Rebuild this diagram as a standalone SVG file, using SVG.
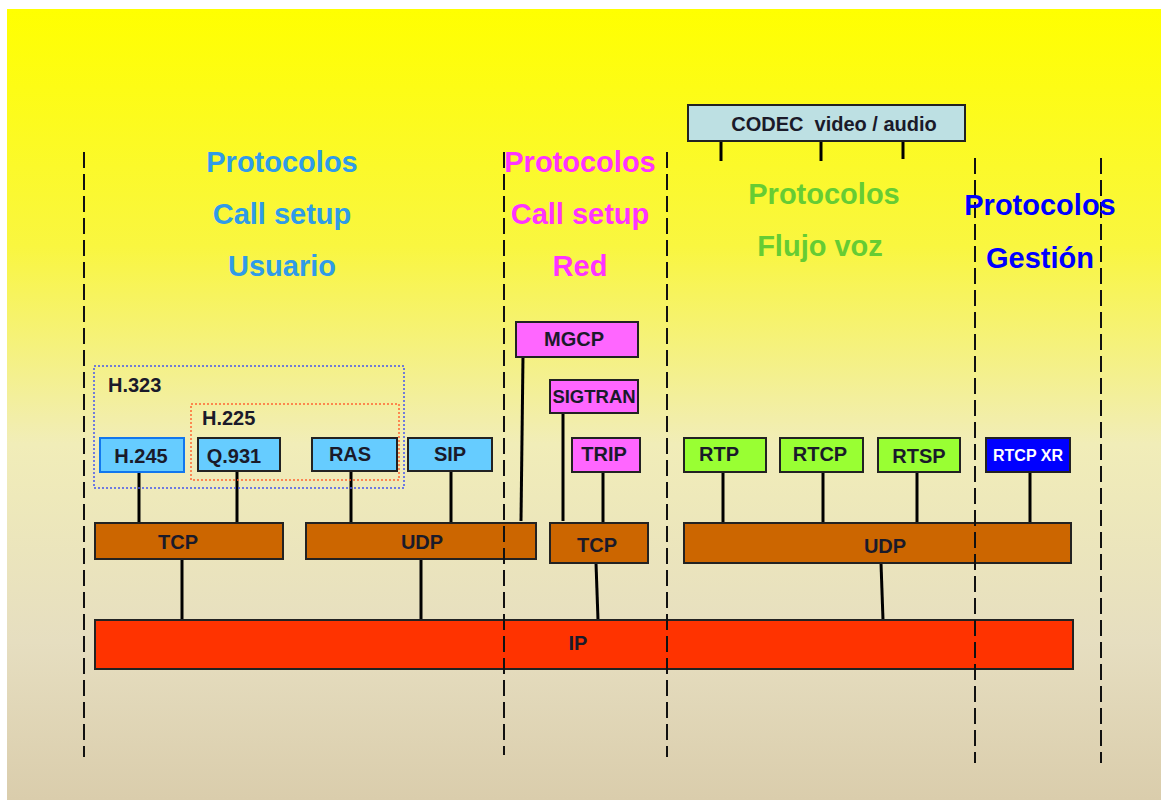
<svg xmlns="http://www.w3.org/2000/svg" width="1161" height="800" viewBox="0 0 1161 800">
<defs>
<linearGradient id="bg" x1="0" y1="0" x2="0" y2="1">
<stop offset="0" stop-color="#FFFF00"/>
<stop offset="0.3" stop-color="#F9F640"/>
<stop offset="0.55" stop-color="#F1EDB8"/>
<stop offset="0.8" stop-color="#E6DEC0"/>
<stop offset="1" stop-color="#DACDAC"/>
</linearGradient>
<style>
.box{stroke:#222;stroke-width:2}
.lbl{font-family:"Liberation Sans",Arial,sans-serif;font-weight:bold;font-size:20px;fill:#1a1a2a;text-anchor:middle;dominant-baseline:central}
.title{font-family:"Liberation Sans",Arial,sans-serif;font-weight:bold;font-size:29px;text-anchor:middle;dominant-baseline:central}
.conn{stroke:#000;stroke-width:3;fill:none}
.div{stroke:#111;stroke-width:2;stroke-dasharray:16 6;fill:none}
.blue{fill:#66CCFF}.bro{fill:#CC6600}.mag{fill:#FF66FF}.grn{fill:#99FF33}
</style>
</defs>
<rect x="0" y="0" width="1161" height="800" fill="#FFFFFF"/>
<rect x="7" y="9" width="1154" height="791" fill="url(#bg)"/>

<g id="connectors">
<line class="conn" x1="721" y1="141" x2="721" y2="161"/>
<line class="conn" x1="821" y1="141" x2="821" y2="161"/>
<line class="conn" x1="903" y1="137" x2="903" y2="159"/>
<line class="conn" x1="139" y1="472" x2="139" y2="523"/>
<line class="conn" x1="237" y1="471" x2="237" y2="523"/>
<line class="conn" x1="351" y1="471" x2="351" y2="523"/>
<line class="conn" x1="451" y1="471" x2="451" y2="522"/>
<line class="conn" x1="523" y1="356" x2="521" y2="521"/>
<line class="conn" x1="563" y1="413" x2="563" y2="521"/>
<line class="conn" x1="603" y1="472" x2="603" y2="523"/>
<line class="conn" x1="723" y1="472" x2="723" y2="523"/>
<line class="conn" x1="823" y1="472" x2="823" y2="523"/>
<line class="conn" x1="917" y1="472" x2="917" y2="523"/>
<line class="conn" x1="1030" y1="472" x2="1030" y2="523"/>
<line class="conn" x1="182" y1="559" x2="182" y2="621"/>
<line class="conn" x1="421" y1="559" x2="421" y2="620"/>
<line class="conn" x1="596" y1="563" x2="598" y2="620"/>
<line class="conn" x1="881" y1="563" x2="883" y2="620"/>
</g>

<g id="codec"><rect class="box" x="688" y="105" width="277" height="36" fill="#BDE0E3"/><text class="lbl" x="834" y="124" xml:space="preserve">CODEC  video / audio</text></g>

<g id="h323"><rect x="94" y="366" width="310" height="122" fill="none" stroke="#4455EE" stroke-width="1.5" stroke-dasharray="2 2"/><text class="lbl" x="108" y="385" style="text-anchor:start">H.323</text></g>
<g id="h225"><rect x="191" y="404" width="208" height="76" fill="none" stroke="#FF6633" stroke-width="1.5" stroke-dasharray="2 2"/><text class="lbl" x="202" y="418" style="text-anchor:start">H.225</text></g>

<g id="h245"><rect x="100" y="438" width="84" height="34" class="blue" stroke="#1177EE" stroke-width="2"/><text class="lbl" x="141" y="456">H.245</text></g>
<g id="q931"><rect class="box blue" x="198" y="438" width="82" height="33"/><text class="lbl" x="234" y="456">Q.931</text></g>
<g id="ras"><rect class="box blue" x="312" y="438" width="85" height="33"/><text class="lbl" x="350" y="454">RAS</text></g>
<g id="sip"><rect class="box blue" x="408" y="438" width="84" height="33"/><text class="lbl" x="450" y="454">SIP</text></g>

<g id="mgcp"><rect class="box mag" x="516" y="322" width="122" height="35"/><text class="lbl" x="574" y="339">MGCP</text></g>
<g id="sigtran"><rect class="box mag" x="550" y="380" width="88" height="33"/><text class="lbl" x="594" y="396" style="font-size:18.5px">SIGTRAN</text></g>
<g id="trip"><rect class="box mag" x="572" y="438" width="68" height="34"/><text class="lbl" x="604" y="454">TRIP</text></g>

<g id="rtp"><rect class="box grn" x="684" y="438" width="82" height="34"/><text class="lbl" x="719" y="454">RTP</text></g>
<g id="rtcp"><rect class="box grn" x="780" y="438" width="83" height="34"/><text class="lbl" x="820" y="454">RTCP</text></g>
<g id="rtsp"><rect class="box grn" x="878" y="438" width="82" height="34"/><text class="lbl" x="919" y="456">RTSP</text></g>
<g id="rtcpxr"><rect class="box" x="986" y="438" width="84" height="34" fill="#0000FF"/><text class="lbl" x="1028" y="455" style="fill:#FFFFFF;font-size:16px">RTCP XR</text></g>

<g id="tcp1"><rect class="box bro" x="95" y="523" width="188" height="36"/><text class="lbl" x="178" y="542">TCP</text></g>
<g id="udp1"><rect class="box bro" x="306" y="523" width="230" height="36"/><text class="lbl" x="422" y="542">UDP</text></g>
<g id="tcp2"><rect class="box bro" x="550" y="523" width="98" height="40"/><text class="lbl" x="597" y="545">TCP</text></g>
<g id="udp2"><rect class="box bro" x="684" y="523" width="387" height="40"/><text class="lbl" x="885" y="546">UDP</text></g>

<g id="ip"><rect class="box" x="95" y="620" width="978" height="49" fill="#FF3300"/><text class="lbl" x="578" y="643">IP</text></g>

<g id="dividers">
<line class="div" x1="84" y1="152" x2="84" y2="757"/>
<line class="div" x1="504" y1="152" x2="504" y2="755"/>
<line class="div" x1="667" y1="152" x2="667" y2="757"/>
<line class="div" x1="975" y1="158" x2="975" y2="763"/>
<line class="div" x1="1101" y1="158" x2="1101" y2="763"/>
</g>

<g id="titles">
<text class="title" x="282" y="162" fill="#2F9BE8">Protocolos</text>
<text class="title" x="282" y="214" fill="#2F9BE8">Call setup</text>
<text class="title" x="282" y="266" fill="#2F9BE8">Usuario</text>
<text class="title" x="580" y="162" fill="#FF33FF">Protocolos</text>
<text class="title" x="580" y="214" fill="#FF33FF">Call setup</text>
<text class="title" x="580" y="266" fill="#FF33FF">Red</text>
<text class="title" x="824" y="194" fill="#66CC33">Protocolos</text>
<text class="title" x="820" y="246" fill="#66CC33">Flujo voz</text>
<text class="title" x="1040" y="205" fill="#0000FF">Protocolos</text>
<text class="title" x="1040" y="258" fill="#0000FF">Gestión</text>
</g>
</svg>
